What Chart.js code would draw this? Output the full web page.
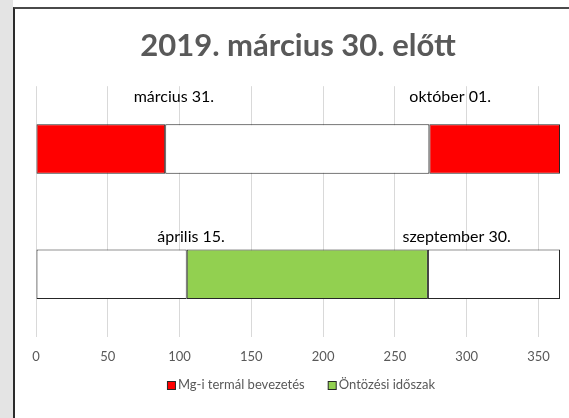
<!DOCTYPE html>
<html>
<head>
<meta charset="utf-8">
<script src="https://cdn.jsdelivr.net/npm/chart.js@4/dist/chart.umd.min.js"></script>
<style>
  html, body { margin: 0; padding: 0; background: #ffffff; }
  #wrap { position: relative; width: 569px; height: 418px; overflow: hidden; }
  #strip { position: absolute; left: 0; top: 0; width: 13px; height: 418px; background: #e4e4e4; }
  #frame { position: absolute; left: 13px; top: 7px; width: 600px; height: 500px;
           border-left: 2px solid #2b2b2b; border-top: 2px solid #4a4a4a; background: #ffffff; }
  canvas { position: absolute; left: 0; top: 0; }
</style>
</head>
<body>
<div id="wrap">
  <div id="strip"></div>
  <div id="frame"></div>
  <canvas id="c" width="569" height="418"></canvas>
</div>
<script>
// ---- data ----
const chartTitle = '2019. március 30. előtt';
const categories = ['Mg-i termál', 'Öntözés'];
const seriesNames = ['Mg-i termál bevezetés', 'Öntözési időszak'];
// top row (day-of-year ranges)
const thermalBefore = [0, 90];
const thermalOff = [90, 274];
const thermalAfter = [274, 365];
// bottom row
const irrigationOffBefore = [0, 105];
const irrigationPeriod = [105, 273];
const irrigationOffAfter = [273, 365];
const xTickValues = [0, 50, 100, 150, 200, 250, 300, 350];
const xMax = 365;
// annotation texts and their anchor (day units) per row
const labelTexts = ['március 31.', 'október 01.', 'április 15.', 'szeptember 30.'];
const labelDays = [96, 288.5, 108, 293];
const labelRows = [0, 0, 1, 1];

const RED = '#ff0000', GREEN = '#92d050', WHITE = '#ffffff', EDGE = '#262626';
const FONT = 'Lato, Carlito, sans-serif';
const barBase = { grouped: false, borderWidth: 1, borderColor: EDGE, borderSkipped: false,
                  categoryPercentage: 1, barPercentage: 0.395 };

const labelPlugin = {
  id: 'periodLabels',
  afterDatasetsDraw(chart) {
    const ctx = chart.ctx;
    const xs = chart.scales.x, ys = chart.scales.y;
    const rowOffset = [-52, -37];
    ctx.save();
    ctx.font = '16px ' + FONT;
    ctx.fillStyle = '#000000';
    ctx.textAlign = 'center';
    ctx.textBaseline = 'middle';
    labelTexts.forEach((t, i) => {
      const x = xs.getPixelForValue(labelDays[i]);
      const y = ys.getPixelForValue(labelRows[i]) + rowOffset[labelRows[i]];
      ctx.fillText(t, x, y);
    });
    ctx.restore();
  }
};

// legend drawn below the axis, using the series' dataset colours
const legendPlugin = {
  id: 'bottomLegend',
  afterDraw(chart) {
    const ctx = chart.ctx;
    const area = chart.chartArea;
    const items = seriesNames.map(name => {
      const ds = chart.data.datasets.find(d => d.label === name);
      return { text: name, color: ds.backgroundColor };
    });
    ctx.save();
    ctx.font = '13px ' + FONT;
    const box = 8, gapText = 3, gapItem = 23;
    const widths = items.map(it => box + gapText + ctx.measureText(it.text).width);
    const total = widths.reduce((a, b) => a + b, 0) + gapItem * (items.length - 1);
    let x = (area.left + area.right) / 2 + 3 - total / 2;
    const y = area.bottom + 48;
    ctx.textBaseline = 'middle';
    ctx.textAlign = 'left';
    items.forEach((it, i) => {
      ctx.fillStyle = it.color;
      ctx.fillRect(x + 0.5, y - box / 2 + 0.5, box, box);
      ctx.strokeStyle = EDGE;
      ctx.lineWidth = 1;
      ctx.strokeRect(x + 0.5, y - box / 2 + 0.5, box, box);
      ctx.fillStyle = '#595959';
      ctx.fillText(it.text, x + box + gapText, y);
      x += widths[i] + gapItem;
    });
    ctx.restore();
  }
};

new Chart(document.getElementById('c'), {
  type: 'bar',
  data: {
    labels: categories,
    datasets: [
      Object.assign({ label: seriesNames[0], data: [thermalBefore, null], backgroundColor: RED }, barBase),
      Object.assign({ label: seriesNames[0] + ' (2)', data: [thermalAfter, null], backgroundColor: RED }, barBase),
      Object.assign({ label: 'off-1', data: [thermalOff, irrigationOffBefore], backgroundColor: WHITE }, barBase),
      Object.assign({ label: 'off-2', data: [null, irrigationOffAfter], backgroundColor: WHITE }, barBase),
      Object.assign({ label: seriesNames[1], data: [null, irrigationPeriod], backgroundColor: GREEN }, barBase)
    ]
  },
  options: {
    indexAxis: 'y',
    responsive: false,
    animation: false,
    devicePixelRatio: 1,
    layout: { padding: { left: 36, right: 9, top: 10, bottom: 53 } },
    scales: {
      x: {
        min: 0, max: xMax,
        afterBuildTicks: (axis) => { axis.ticks = xTickValues.map(v => ({ value: v })); },
        afterFit: (axis) => { axis.height = 28; },
        grid: { color: '#d9d9d9', drawTicks: false, lineWidth: 1 },
        border: { display: false },
        ticks: { color: '#595959', font: { family: FONT, size: 13 }, padding: 12, maxRotation: 0 }
      },
      y: { display: false, offset: true, grid: { display: false } }
    },
    plugins: {
      title: {
        display: true, text: chartTitle, color: '#595959',
        font: { family: FONT, size: 31, weight: 'bold' },
        padding: { top: 17, bottom: 22 }
      },
      legend: { display: false },
      tooltip: { enabled: false }
    }
  },
  plugins: [labelPlugin, legendPlugin]
});
</script>
</body>
</html>
